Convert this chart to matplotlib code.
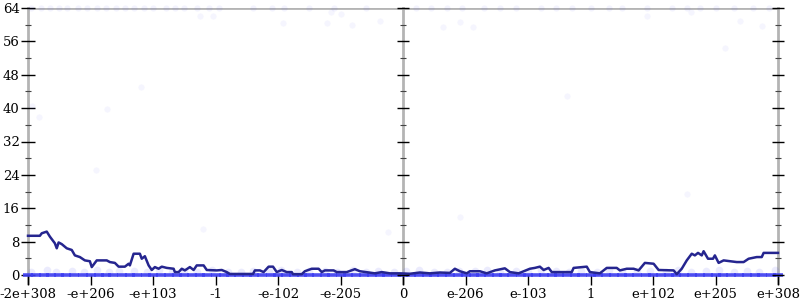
import numpy as np
import matplotlib
matplotlib.use("Agg")
import matplotlib.pyplot as plt

# x positions are in "tick units": 0 = -2e+308 ... 6 = 0 ... 12 = e+308
xtick_labels = ['-2e+308', '-e+206', '-e+103', '-1', '-e-102', '-e-205', '0',
                'e-206', 'e-103', '1', 'e+102', 'e+205', 'e+308']
yticks_major = [0, 8, 16, 24, 32, 40, 48, 56, 64]
yticks_minor = [4, 12, 20, 28, 36, 44, 52, 60]

# averaged error line
line_x = [0.00, 0.19, 0.22, 0.30, 0.35, 0.43, 0.46, 0.49, 0.54, 0.62, 0.70, 0.75,
          0.83, 0.91, 0.99, 1.02, 1.10, 1.26, 1.31, 1.39, 1.45, 1.55, 1.61, 1.63,
          1.69, 1.79, 1.82, 1.87, 1.93, 1.98, 2.03, 2.09, 2.14, 2.22, 2.33, 2.35,
          2.41, 2.46, 2.51, 2.59, 2.65, 2.70, 2.81, 2.86, 3.02, 3.10, 3.18, 3.23,
          3.60, 3.63, 3.71, 3.77, 3.85, 3.92, 3.98, 4.06, 4.14, 4.22, 4.24, 4.38,
          4.43, 4.54, 4.65, 4.70, 4.75, 4.89, 4.94, 5.10, 5.23, 5.31, 5.41, 5.55,
          5.66, 5.79, 5.95, 6.11, 6.27, 6.43, 6.59, 6.75, 6.83, 6.91, 7.02, 7.07,
          7.23, 7.34, 7.47, 7.63, 7.71, 7.85, 7.93, 8.03, 8.11, 8.19, 8.25, 8.33,
          8.38, 8.70, 8.73, 8.86, 8.94, 8.99, 9.15, 9.26, 9.42, 9.47, 9.58, 9.69,
          9.77, 9.87, 10.01, 10.09, 10.33, 10.38, 10.46, 10.54, 10.62, 10.67, 10.72,
          10.78, 10.81, 10.88, 10.96, 10.99, 11.05, 11.13, 11.23, 11.34, 11.45,
          11.53, 11.66, 11.74, 11.77, 12.00]
line_y = [9.4, 9.4, 10.0, 10.4, 9.2, 7.6, 6.4, 7.8, 7.4, 6.4, 6.0, 4.7,
          4.3, 3.5, 3.3, 1.9, 3.5, 3.5, 3.1, 2.9, 2.0, 2.0, 2.7, 2.3,
          5.1, 5.1, 3.9, 4.5, 2.3, 1.2, 1.9, 1.5, 2.0, 1.7, 1.5, 0.7,
          0.7, 1.5, 1.1, 1.9, 1.2, 2.3, 2.3, 1.2, 1.1, 1.2, 0.7, 0.25,
          0.25, 1.1, 1.1, 0.7, 2.0, 2.0, 0.7, 1.2, 0.7, 0.7, 0.2, 0.2,
          0.9, 1.5, 1.5, 0.7, 1.1, 1.1, 0.7, 0.7, 1.4, 0.9, 0.7, 0.4,
          0.7, 0.4, 0.4, 0.3, 0.6, 0.4, 0.6, 0.5, 1.5, 0.9, 0.4, 0.9,
          0.9, 0.4, 1.1, 1.6, 0.7, 0.4, 0.9, 1.5, 1.7, 2.0, 1.2, 1.7,
          0.7, 0.7, 1.7, 1.9, 2.0, 0.7, 0.4, 1.7, 1.7, 1.1, 1.5, 1.5,
          1.1, 2.9, 2.7, 1.2, 1.1, 0.2, 1.5, 3.5, 5.1, 4.7, 5.3,
          4.7, 5.7, 3.9, 3.9, 4.7, 2.9, 3.5, 3.3, 3.1, 3.1,
          3.9, 4.3, 4.3, 5.3, 5.3]

# individual sample points (very faint)
bot_x = [0.00, 0.12, 0.25, 0.37, 0.50, 0.61, 0.74, 0.88, 1.00, 1.13, 1.25, 1.36,
         1.50, 1.63, 1.75, 1.88, 2.00, 2.12, 2.26, 2.38, 2.50, 2.63, 2.75, 2.87,
         3.00, 3.13, 3.24, 3.37, 3.50, 3.62, 3.75, 3.88, 4.00, 4.12, 4.25, 4.38,
         4.50, 4.63, 4.75, 4.87, 5.00, 5.12, 5.25, 5.37, 5.50, 5.63, 5.75, 5.88,
         6.00, 6.12, 6.25, 6.38, 6.50, 6.62, 6.75, 6.88, 7.00, 7.13, 7.25, 7.37,
         7.50, 7.62, 7.75, 7.88, 8.00, 8.12, 8.25, 8.38, 8.50, 8.63, 8.75, 8.87,
         9.00, 9.12, 9.25, 9.38, 9.50, 9.62, 9.75, 9.88, 10.00, 10.13, 10.25, 10.37,
         10.50, 10.62, 10.75, 10.88, 11.00, 11.12, 11.25, 11.38, 11.50, 11.63,
         11.75, 11.88, 12.00]
band_x = [0.05, 0.30, 0.45, 0.70, 0.90, 1.10, 1.30, 1.45, 1.70, 1.90, 2.10, 2.30,
          2.50, 2.70, 2.95, 3.20, 3.40, 3.60, 3.85, 4.05, 4.30, 4.50, 4.75, 4.95,
          5.20, 5.40, 5.60, 5.85, 6.05, 6.25, 6.50, 6.70, 6.90, 7.15, 7.35, 7.55,
          7.80, 8.00, 8.20, 8.45, 8.65, 8.85, 9.10, 9.30, 9.50, 9.75, 9.95, 10.20,
          10.40, 10.60, 10.85, 11.05, 11.30, 11.50, 11.70, 11.95]
band_y = [0.8, 1.1, 0.6, 1.0, 0.8, 1.2, 0.7, 1.0, 0.9, 0.6, 1.1, 0.8,
          1.0, 0.7, 1.2, 0.8, 0.6, 1.0, 0.9, 1.1, 0.7, 0.9, 1.0, 0.6,
          1.1, 0.8, 0.9, 0.7, 1.0, 1.2, 0.8, 0.6, 1.0, 0.9, 1.1, 0.7,
          1.0, 0.8, 1.2, 0.9, 0.6, 1.0, 0.8, 1.1, 0.7, 0.9, 1.0, 0.8,
          1.1, 0.6, 0.9, 1.2, 0.8, 1.0, 0.7, 1.1]
top_x = [0.05, 0.20, 0.35, 0.50, 0.62, 0.80, 0.95, 1.10, 1.25, 1.40, 1.55, 1.70,
         1.85, 2.00, 2.20, 2.35, 2.50, 2.70, 2.90, 3.05, 3.60, 3.90, 4.10, 4.50,
         4.90, 5.40, 6.20, 6.45, 6.70, 6.95, 7.30, 7.55, 7.80, 8.20, 8.45, 8.70,
         9.00, 9.30, 9.50, 9.90, 10.30, 10.55, 10.75, 11.00, 11.30, 11.60, 11.85]
mid_x = [0.06, 0.17, 1.26, 1.80, 1.09, 2.80, 5.76, 10.54, 6.91, 11.15, 8.62,
         2.75, 2.96, 4.08, 4.78, 5.18, 5.63, 6.64, 6.91, 7.12, 11.39, 11.74,
         4.85, 5.00, 9.90, 10.60]
mid_y = [40.6, 37.9, 39.9, 45.0, 25.1, 11.0, 10.4, 19.5, 13.9, 54.5, 43.0,
         62.0, 62.2, 60.4, 60.3, 60.0, 61.0, 59.4, 60.6, 59.4, 60.9, 59.8,
         63.0, 62.5, 62.0, 63.0]

fig = plt.figure(figsize=(8, 3), dpi=100)
ax = fig.add_axes([28/800, 25/300, 750/800, 267/300])
ax.set_xlim(0, 12)
ax.set_ylim(0, 64)
for s in ax.spines.values():
    s.set_visible(False)

gray = '#b4b4b4'
for xv in [0, 6, 12]:
    ax.plot([xv, xv], [-2, 64], color=gray, lw=2, zorder=1, clip_on=False)
ax.axhline(64, color=gray, lw=2, zorder=1)

dot = '#3c3cf0'
ax.scatter(band_x, band_y, s=30, color=dot, alpha=0.10, lw=0, zorder=2, clip_on=False)
# many overlapping points at 0 -> solid strip
ax.plot(bot_x, np.zeros(len(bot_x)), ls='none', marker='_', ms=7, mew=2.6,
        color=dot, alpha=0.9, zorder=2, clip_on=False)
ax.scatter(top_x, np.full(len(top_x), 64), s=20, color=dot, alpha=0.06, lw=0, zorder=2, clip_on=False)
ax.scatter(mid_x, mid_y, s=20, color=dot, alpha=0.05, lw=0, zorder=2)

ax.plot(line_x, line_y, color='#25258f', lw=1.8, zorder=3, clip_on=False)

# y ticks on the left axis
ax.set_yticks(yticks_major)
ax.set_yticks(yticks_minor, minor=True)
ax.set_yticklabels([str(v) for v in yticks_major], fontfamily='DejaVu Serif', fontsize=9.5)
ax.tick_params(axis='y', which='major', direction='inout', length=10, width=1, color='black', pad=1)
ax.tick_params(axis='y', which='minor', direction='inout', length=5, width=0.8, color='#444444')

# tick marks on the middle and right axes
for xv in [6, 12]:
    ax.plot(np.full(len(yticks_major), xv), yticks_major, ls='none', marker='_',
            ms=8.5, mew=1, color='black', zorder=4, clip_on=False)
    ax.plot(np.full(len(yticks_minor), xv), yticks_minor, ls='none', marker='_',
            ms=4, mew=0.8, color='#444444', zorder=4, clip_on=False)

ax.set_xticks(range(len(xtick_labels)))
ax.set_xticklabels(xtick_labels, fontfamily='DejaVu Serif', fontsize=9.5)
ax.tick_params(axis='x', direction='out', length=7, width=1, color='black', pad=2)

fig.savefig('out.png', dpi=100)
print('done')
